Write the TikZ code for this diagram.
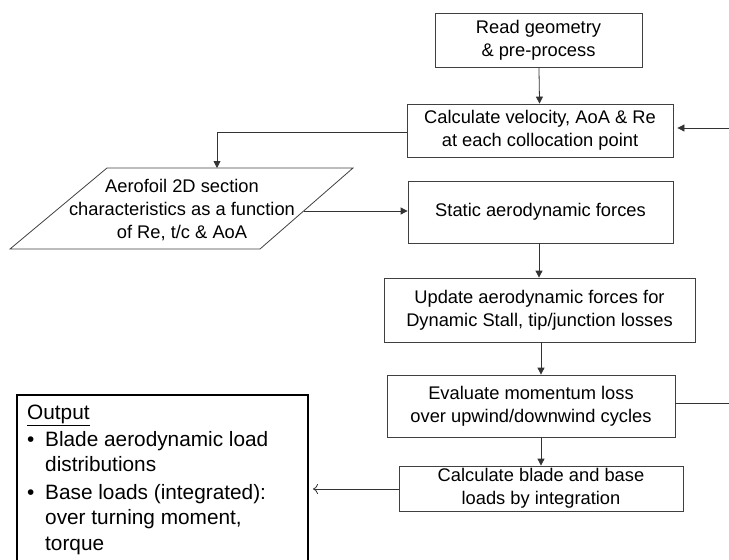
\documentclass[tikz,border=0pt]{standalone}
\usepackage{fontspec}
\setmainfont{Liberation Sans}
\usetikzlibrary{arrows.meta,calc}
\begin{document}
\begin{tikzpicture}[x=1pt,y=-1pt,
  box/.style={draw=black!75,line width=0.8pt,fill=white,inner sep=0pt,align=center,
    font=\fontsize{18.3}{23}\selectfont},
  conn/.style={draw=black!80,line width=0.8pt,-{Triangle[length=7pt,width=7pt]}},
  plain/.style={draw=black!80,line width=0.8pt}]
\useasboundingbox (0,0) rectangle (729,560);
\node[box,minimum width=207pt,minimum height=54pt] (read) at (538.5,40) {Read geometry\\ \& pre-process};
\node[box,minimum width=266pt,minimum height=53pt] (calc) at (540,130.5) {Calculate velocity, AoA \& Re\\at each collocation point};
\coordinate (pTL) at (107,168);
\coordinate (pTR) at (353,168);
\coordinate (pBR) at (260,249);
\coordinate (pBL) at (10,249);
\draw[draw=black!75,line width=0.8pt] (pTL) -- (pTR) -- (pBR) -- (pBL) -- cycle;
\node[inner sep=0pt,align=center,font=\fontsize{18.3}{23}\selectfont] (para) at (182,210) {Aerofoil 2D section\\characteristics as a function\\of Re, t/c \& AoA};
\coordinate (paraR) at (303.6,211);
\coordinate (paraT) at (217,168);
\node[box,minimum width=265pt,minimum height=62pt] (static) at (540.5,212) {Static aerodynamic forces};
\node[box,minimum width=311pt,minimum height=64pt] (update) at (539.5,310) {Update aerodynamic forces for\\Dynamic Stall, tip/junction losses};
\node[box,minimum width=288pt,minimum height=62pt] (eval) at (531,406) {Evaluate momentum loss\\over upwind/downwind cycles};
\node[box,minimum width=284pt,minimum height=45pt] (blade) at (541,488.5) {Calculate blade and base\\loads by integration};
\draw[line width=2.2pt] (17,580) |- (308,395) -- (308,580);
\node[anchor=north west,inner sep=0pt,align=left,font=\fontsize{20.8}{25.5}\selectfont] (out) at (27,405)
  {\underline{Output}\\[1pt]
   \makebox[18pt][l]{\textbullet}Blade aerodynamic load\\
   \hspace*{18pt}distributions\\[2pt]
   \makebox[18pt][l]{\textbullet}Base loads (integrated):\\
   \hspace*{18pt}over turning moment,\\
   \hspace*{18pt}torque};
\coordinate (outr) at (313,489);
\coordinate (inR) at (729,128);
\coordinate (evR) at (729,403);
\draw[conn] (read) -- (calc);
\draw[conn] (inR) -- ($(calc.east|-inR)+(4,0)$);
\draw[conn] (calc.west|-0,132) -| (paraT);
\draw[conn] (paraR) -- (paraR-|static.west);
\draw[conn] (static.south-|539,0) -- (update.north-|539,0);
\draw[conn] (update.south-|541,0) -- (eval.north-|541,0);
\draw[conn] (eval.south-|541,0) -- (blade.north-|541,0);
\draw[plain] (eval.east|-evR) -- (evR);
\draw[draw=black!80,line width=0.8pt,-{To[length=5pt,width=10pt]}] (blade.west|-outr) -- (outr);
\end{tikzpicture}
\end{document}
